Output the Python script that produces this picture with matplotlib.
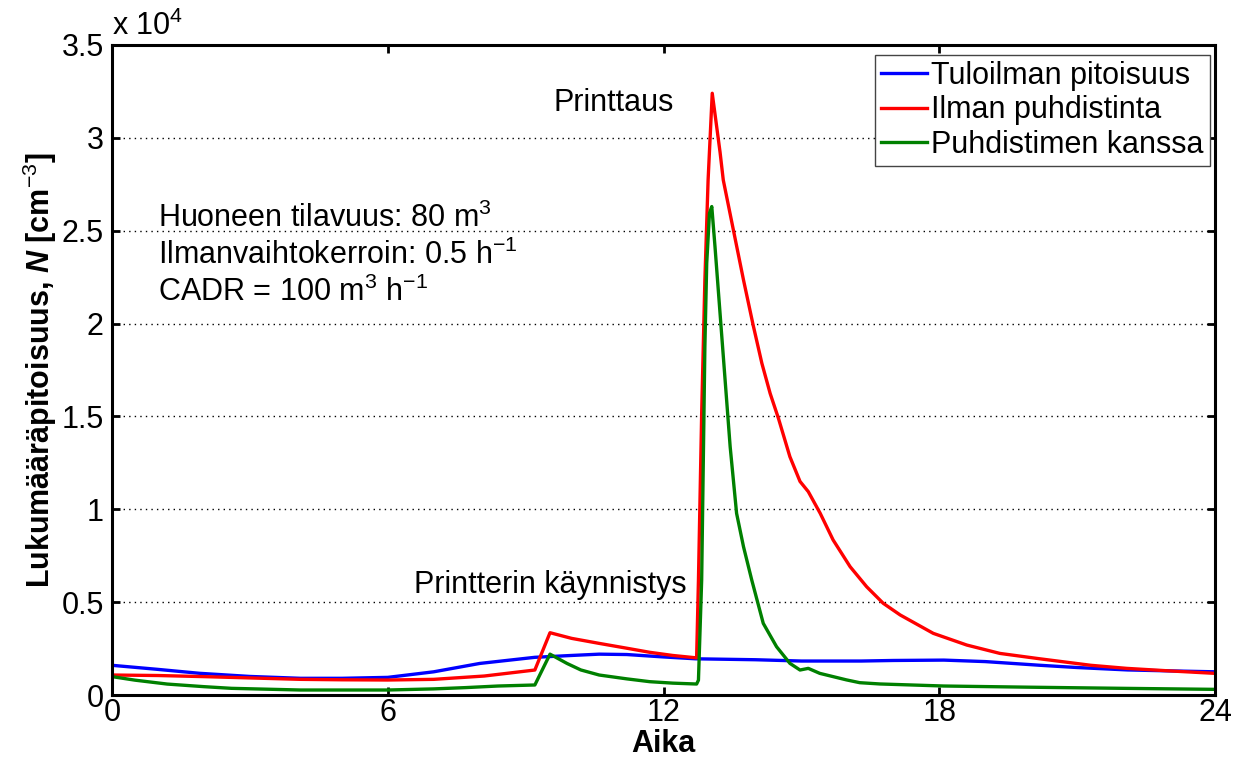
import numpy as np
import matplotlib.pyplot as plt

plt.rcParams['font.family'] = ['Liberation Sans', 'DejaVu Sans']
plt.rcParams['mathtext.fontset'] = 'custom'
plt.rcParams['mathtext.rm'] = 'Liberation Sans'
plt.rcParams['mathtext.it'] = 'Liberation Sans:italic'
plt.rcParams['mathtext.bf'] = 'Liberation Sans:bold'
plt.rcParams['mathtext.bfit'] = 'Liberation Sans:bold:italic'

# Tuloilman pitoisuus (sininen)
t_tulo = [0, 1, 1.9, 3, 4.1, 5, 6, 7, 8, 9.2, 10, 10.6, 11.2, 12, 12.7, 14, 15,
          16.3, 17, 18.1, 19, 20.2, 21, 22.1, 23, 24]
n_tulo = [1600, 1380, 1170, 1000, 900, 900, 950, 1250, 1700, 2030, 2130, 2200,
          2180, 2050, 1950, 1900, 1830, 1830, 1860, 1880, 1800, 1600, 1480, 1350,
          1300, 1250]

# Ilman puhdistinta (punainen)
t_ilman = [0, 1, 2, 3, 4.1, 5, 6, 7, 8.1, 9.2, 9.53, 10, 10.6, 11.2, 11.7, 12.2,
           12.72, 12.76, 12.83, 12.9, 12.97, 13.06, 13.23, 13.3, 13.52, 13.74,
           13.95, 14.14, 14.32, 14.5, 14.75, 14.97, 15.15, 15.41, 15.69, 16.06,
           16.42, 16.78, 17.15, 17.87, 18.6, 19.32, 20.19, 21.3, 22.08, 23, 24]
n_ilman = [1077, 1050, 990, 920, 844, 820, 808, 844, 1023, 1346, 3355, 3050, 2780,
           2520, 2300, 2130, 2000, 6190, 15170, 22350, 27730, 32400, 29230, 27730,
           25040, 22350, 19920, 17860, 16240, 14900, 12830, 11500, 10950, 9780,
           8350, 6910, 5830, 4940, 4310, 3320, 2690, 2240, 1950, 1600, 1435, 1300,
           1166]

# Puhdistimen kanssa (vihreä)
t_puhd = [0, 0.5, 1.2, 2, 2.6, 4.1, 6, 7, 7.7, 8.4, 9.2, 9.53, 9.9, 10.2, 10.6,
          11.2, 11.7, 12.2, 12.72, 12.76, 12.83, 12.87, 12.9, 12.94, 13.0, 13.05,
          13.12, 13.23, 13.34, 13.45, 13.59, 13.74, 13.92, 14.17, 14.46, 14.75,
          14.97, 15.15, 15.4, 15.98, 16.27, 16.71, 18.1, 20, 22, 24]
n_puhd = [990, 800, 590, 450, 360, 270, 270, 330, 400, 485, 540, 2200, 1700, 1350,
          1077, 870, 718, 640, 592, 800, 6190, 13370, 18750, 23250, 25940, 26300,
          24140, 20550, 16960, 13370, 9780, 7990, 6190, 3860, 2600, 1705, 1346,
          1435, 1166, 815, 664, 595, 485, 420, 360, 305]

xticks = [0, 6, 12, 18, 24]
yticks = [0, 5000, 10000, 15000, 20000, 25000, 30000, 35000]
ylabels = ['0', '0.5', '1', '1.5', '2', '2.5', '3', '3.5']

fs = 22
fig = plt.figure(figsize=(12.34, 7.62), dpi=100)
ax = fig.add_axes([0.0908, 0.0879, 0.8938, 0.8531])

ax.plot(t_tulo, n_tulo, color='#0000ff', lw=2.4, label='Tuloilman pitoisuus')
ax.plot(t_ilman, n_ilman, color='#ff0000', lw=2.4, label='Ilman puhdistinta')
ax.plot(t_puhd, n_puhd, color='#008000', lw=2.4, label='Puhdistimen kanssa')

ax.set_xlim(0, 24)
ax.set_ylim(0, 35000)
ax.set_xticks(xticks)
ax.set_yticks(yticks)
ax.set_yticklabels(ylabels)
ax.tick_params(direction='in', length=6, width=2, labelsize=fs,
               top=True, right=True)
ax.tick_params(axis='x', pad=2)
ax.tick_params(axis='y', pad=6)
ax.yaxis.grid(True, color='black', linestyle=(0, (1, 3)), lw=1)
for s in ax.spines.values():
    s.set_linewidth(2.2)

ax.set_xlabel('Aika', fontsize=fs, fontweight='bold', labelpad=1)
ax.set_ylabel(r'Lukumääräpitoisuus, $\mathbfit{N}$ [cm$^{-3}$]', fontsize=fs,
              fontweight='bold', labelpad=2)
ax.text(0.0, 1.004, r'x 10$^4$', transform=ax.transAxes, fontsize=fs,
        ha='left', va='bottom')

ax.text(1.0, 25690, r'Huoneen tilavuus: 80 m$^3$', fontsize=fs, va='center')
ax.text(1.0, 23690, r'Ilmanvaihtokerroin: 0.5 h$^{-1}$', fontsize=fs, va='center')
ax.text(1.0, 21700, r'CADR = 100 m$^3$ h$^{-1}$', fontsize=fs, va='center')
ax.text(10.92, 31880, 'Printtaus', fontsize=fs, ha='center', va='center')
ax.text(9.53, 5920, 'Printterin käynnistys', fontsize=fs, ha='center', va='center')

leg = ax.legend(loc='upper right', bbox_to_anchor=(0.9955, 0.985), fontsize=fs,
                fancybox=False, framealpha=1, edgecolor='#444444',
                handlelength=1.5, handletextpad=0.15, borderpad=0.2,
                labelspacing=0.15, borderaxespad=0)
leg.get_frame().set_linewidth(1)

plt.savefig('out.png', dpi=100)
plt.close()
